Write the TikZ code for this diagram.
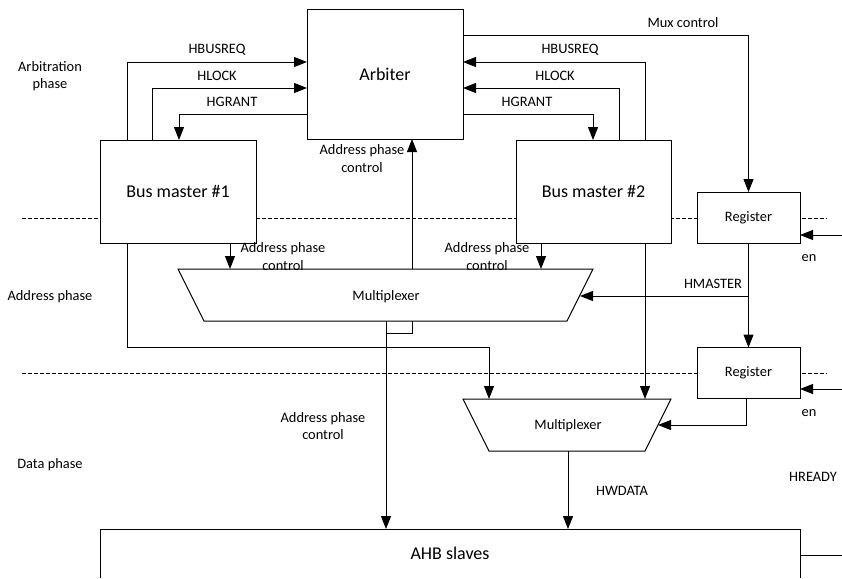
\documentclass[tikz,border=0pt]{standalone}
\usepackage{fontspec}
\setmainfont{Carlito}
\usetikzlibrary{arrows.meta}
\begin{document}
\begin{tikzpicture}[x=1pt,y=-1pt,
  line width=1pt,
  box/.style={draw, fill=white, outer sep=0pt, inner sep=0pt, font=\fontsize{18}{21}\selectfont},
  regbox/.style={box, font=\fontsize{14.4}{17.5}\selectfont, minimum width=103pt, minimum height=51pt},
  lbl/.style={inner sep=0pt, align=center, font=\fontsize{14.4}{17.5}\selectfont},
  arr/.style={-{Triangle[length=13pt,width=10pt]}},
  phasesep/.style={dash pattern=on 3.5pt off 2.5pt, line width=0.8pt}
]
\useasboundingbox (0,0) rectangle (842,578);

% phase separators
\draw[phasesep] (22,218) -- (827,218);
\draw[phasesep] (22,373) -- (827,373);

% phase labels
\node[lbl] (parb) at (50,76) {Arbitration\\phase};
\node[lbl] (padr) at (50,297) {Address phase};
\node[lbl] (pdat) at (50,465) {Data phase};

% boxes
\node[box, minimum width=156pt, minimum height=129pt] (arb) at (385,74.5) {Arbiter};
\node[box, minimum width=156pt, minimum height=103pt] (bm1) at (178,191.5) {Bus master \#1};
\node[box, minimum width=155pt, minimum height=103pt] (bm2) at (593.5,191.5) {Bus master \#2};
\node[regbox] (reg1) at (748.5,217.5) {Register};
\node[regbox] (reg2) at (748.5,373) {Register};
\node[draw=none, minimum width=700pt, minimum height=49pt, outer sep=0pt, inner sep=0pt,
      font=\fontsize{18}{21}\selectfont] (ahb) at (450,553.5) {AHB slaves};
\draw (ahb.south west) -- (ahb.north west) -- (ahb.north east) -- (ahb.south east);

% multiplexer corner coordinates
\coordinate (m1tl) at (178,269);
\coordinate (m1tr) at (593,269);
\coordinate (m1br) at (567,321);
\coordinate (m1bl) at (204,321);
\coordinate (m2tl) at (463,399);
\coordinate (m2tr) at (671,399);
\coordinate (m2br) at (645,451);
\coordinate (m2bl) at (489,451);
\coordinate (m1in) at (580,296);
\coordinate (m2in) at (658,425);
\coordinate (m1tap) at (386,333);
\coordinate (enA) at (842,235);
\coordinate (enB) at (842,389);
\coordinate (hrdy) at (842,555);

% address phase control back to arbiter (passes behind mux)
\draw[arr] (m1tap) -| (412,0 |- arb.south);

% multiplexers
\draw[fill=white] (m1tl) -- (m1tr) -- (m1br) -- (m1bl) -- cycle;
\node[lbl] (mux1) at (386,297) {Multiplexer};
\draw[fill=white] (m2tl) -- (m2tr) -- (m2br) -- (m2bl) -- cycle;
\node[lbl] (mux2) at (568,426) {Multiplexer};

% arbitration signals, master 1
\draw[arr] (127,0 |- bm1.north) |- (arb.west |- 0,62);
\node[lbl] (lhb1) at (217,50) {HBUSREQ};
\draw[arr] (152,0 |- bm1.north) |- (arb.west |- 0,88);
\node[lbl] (lhl1) at (217,76) {HLOCK};
\draw[arr] (arb.west |- 0,114) -| (179,0 |- bm1.north);
\node[lbl] (lhg1) at (232,102) {HGRANT};

% arbitration signals, master 2
\draw[arr] (645,0 |- bm2.north) |- (arb.east |- 0,62);
\node[lbl] (lhb2) at (570,50) {HBUSREQ};
\draw[arr] (619,0 |- bm2.north) |- (arb.east |- 0,88);
\node[lbl] (lhl2) at (555,76) {HLOCK};
\draw[arr] (arb.east |- 0,114) -| (593,0 |- bm2.north);
\node[lbl] (lhg2) at (527,102) {HGRANT};

% mux control
\draw[arr] (arb.east |- 0,36) -| (reg1.north);
\node[lbl] (lmux) at (683,23) {Mux control};

\node[lbl] (lapc0) at (362,158.5) {Address phase\\control};

% masters to address mux
\draw[arr] (230,0 |- bm1.south) -- (230,0 |- m1tl);
\node[lbl] (lapc1) at (283,256.5) {Address phase\\control};
\draw[arr] (541,0 |- bm2.south) -- (541,0 |- m1tl);
\node[lbl] (lapc2) at (487,256.5) {Address phase\\control};

% address mux output to slaves
\draw[arr] (386,0 |- m1bl) -- (386,0 |- ahb.north);
\node[lbl] (lapc3) at (323,426) {Address phase\\control};

% HMASTER
\draw[arr] (reg1.south) -- (reg2.north);
\draw[arr] (749,296) -- (m1in);
\node[lbl] (lhm) at (713,284) {HMASTER};

% enables
\draw[arr] (enA) -- (reg1.east |- enA);
\node[lbl] (len1) at (809,258) {en};
\draw[arr] (enB) -- (reg2.east |- enB);
\node[lbl] (len2) at (809,413) {en};

% register 2 to data mux
\draw[arr] (746,0 |- reg2.south) |- (m2in);

% write data paths
\draw[arr] (127,0 |- bm1.south) |- (489,347) -- (489,0 |- m2tl);
\draw[arr] (645,0 |- bm2.south) -- (645,0 |- m2tl);
\draw[arr] (568,0 |- m2bl) -- (568,0 |- ahb.north);
\node[lbl] (lhw) at (622,491) {HWDATA};

% HREADY
\draw (ahb.east |- hrdy) -- (hrdy);
\node[lbl] (lhr) at (813,477) {HREADY};
\end{tikzpicture}
\end{document}
